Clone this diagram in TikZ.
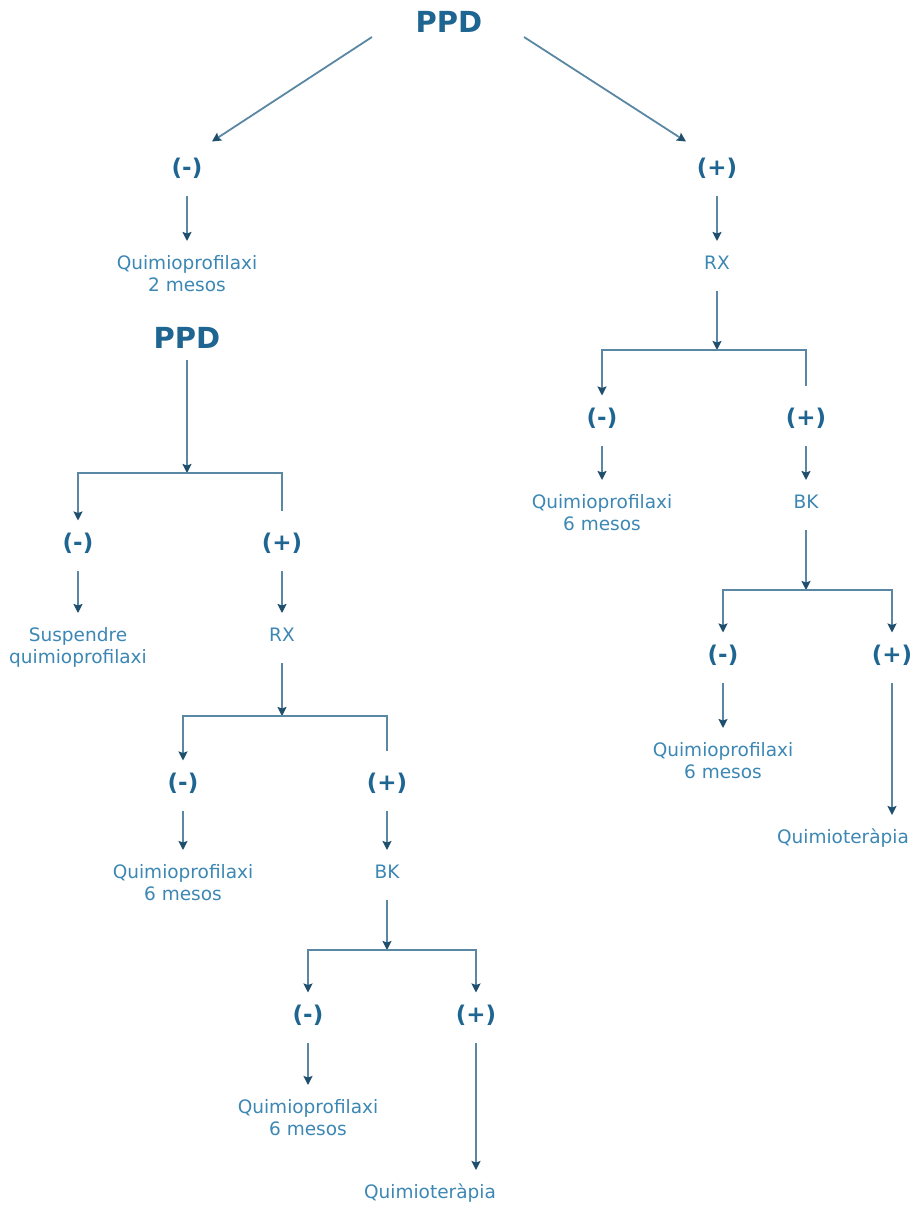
\documentclass[tikz,border=0pt]{standalone}
\usepackage{fontspec}
\setmainfont{DejaVu Sans}
\usetikzlibrary{arrows.meta}

\definecolor{headc}{HTML}{1F6591}
\definecolor{lblc}{HTML}{3C87B4}
\definecolor{linec}{HTML}{5A87A3}
\definecolor{tipc}{HTML}{1F4F6D}

\tikzset{
  head/.style={font=\bfseries\fontsize{29}{29}\selectfont, text=headc,
    inner sep=0pt, text height=21pt, text depth=0pt, outer ysep=11pt, anchor=base},
  sign/.style={font=\bfseries\fontsize{23}{23}\selectfont, text=headc,
    inner sep=0pt, text height=17pt, text depth=8pt, outer ysep=12.5pt, anchor=base},
  lbl/.style={font=\fontsize{18.5}{22}\selectfont, text=lblc, align=center,
    inner xsep=0pt, inner ysep=11pt, outer ysep=3pt, anchor=north},
  single/.style={lbl, text height=14pt, text depth=8pt},
  link/.style={draw=linec, line width=1.8pt,
    -{Stealth[length=9pt,width=9pt,inset=1.5pt,color=tipc]}},
  twin/.style={draw=linec, line width=1.8pt,
    {Stealth[length=9pt,width=9pt,inset=1.5pt,color=tipc]}-{Stealth[length=9pt,width=9pt,inset=1.5pt,color=tipc]}},
}

\begin{document}
\begin{tikzpicture}[x=1pt, y=-1pt]
  \fill[white] (0,0) rectangle (911,1216);
  \useasboundingbox (0,0) rectangle (911,1216);

  % first test
  \node[head] (ppd1) at (449,32.5) {PPD};
  \node[sign] (neg1) at (187,175) {(-)};
  \node[sign] (pos1) at (717,175) {(+)};
  \draw[link] ([shift={(-77pt,6.5pt)}]ppd1.south) -- ([shift={(25pt,4pt)}]neg1.north);
  \draw[link] ([shift={(75pt,6.5pt)}]ppd1.south) -- ([shift={(-31pt,4pt)}]pos1.north);

  % negative branch: two months of prophylaxis, then a second test
  \node[lbl] (q1) at (187,241) {Quimioprofilaxi\\2 mesos};
  \draw[link] (neg1) -- (q1);
  \node[head] (ppd2) at (187,348.5) {PPD};
  \coordinate (br4) at (187,473);
  \draw[link] (ppd2) -- (br4);
  \node[sign] (neg4) at (78,550) {(-)};
  \node[sign] (pos4) at (282,550) {(+)};
  \draw[link] ([yshift=10pt]pos4.north) |- (br4) -| (neg4);
  \node[lbl] (susp) at (78,613) {Suspendre\\quimioprofilaxi};
  \draw[link] (neg4) -- (susp);
  \node[single] (rx2) at (282,613) {RX};
  \draw[link] (pos4) -- (rx2);
  \coordinate (br5) at (282,716);
  \draw[link] (rx2) -- (br5);
  \node[sign] (neg5) at (183,790) {(-)};
  \node[sign] (pos5) at (387,790) {(+)};
  \draw[link] ([yshift=10pt]pos5.north) |- (br5) -| (neg5);
  \node[lbl] (q5) at (183,850) {Quimioprofilaxi\\6 mesos};
  \draw[link] (neg5) -- (q5);
  \node[single] (bk2) at (387,850) {BK};
  \draw[link] (pos5) -- (bk2);
  \coordinate (br6) at (387,950);
  \draw[link] (bk2) -- (br6);
  \node[sign] (neg6) at (308,1022) {(-)};
  \node[sign] (pos6) at (476,1022) {(+)};
  \draw[twin] (pos6) |- (br6) -| (neg6);
  \node[lbl] (q6) at (308,1085) {Quimioprofilaxi\\6 mesos};
  \draw[link] (neg6) -- (q6);
  \node[lbl] (chemo2) at (430,1170) {Quimioteràpia};
  \draw[link] (pos6) -- (pos6 |- chemo2.north);

  % positive branch: chest X-ray
  \node[single] (rx1) at (717,241) {RX};
  \draw[link] (pos1) -- (rx1);
  \coordinate (br1) at (717,350);
  \draw[link] (rx1) -- (br1);
  \node[sign] (neg2) at (602,425) {(-)};
  \node[sign] (pos2) at (806,425) {(+)};
  \draw[link] ([yshift=10pt]pos2.north) |- (br1) -| (neg2);
  \node[lbl] (q2) at (602,480) {Quimioprofilaxi\\6 mesos};
  \draw[link] (neg2) -- (q2);
  \node[single] (bk1) at (806,480) {BK};
  \draw[link] (pos2) -- (bk1);
  \coordinate (br2) at (806,590);
  \draw[link] (bk1) -- (br2);
  \node[sign] (neg3) at (723,662) {(-)};
  \node[sign] (pos3) at (892,662) {(+)};
  \draw[twin] (pos3) |- (br2) -| (neg3);
  \node[lbl] (q3) at (723,728) {Quimioprofilaxi\\6 mesos};
  \draw[link] (neg3) -- (q3);
  \node[lbl] (chemo1) at (843,815) {Quimioteràpia};
  \draw[link] (pos3) -- (pos3 |- chemo1.north);
\end{tikzpicture}
\end{document}
